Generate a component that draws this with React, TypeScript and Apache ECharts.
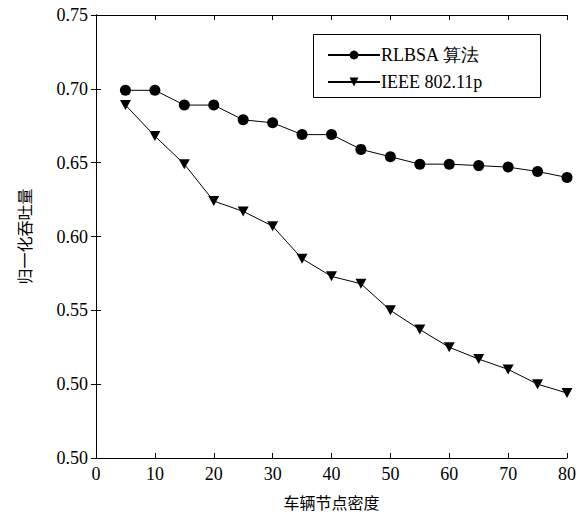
import React, { useEffect, useRef } from "react";
import * as echarts from "echarts";

const density = [5, 10, 15, 20, 25, 30, 35, 40, 45, 50, 55, 60, 65, 70, 75, 80];
const rlbsa = [0.699, 0.699, 0.689, 0.689, 0.679, 0.677, 0.669, 0.669, 0.659, 0.654, 0.649, 0.649, 0.648, 0.647, 0.644, 0.640];
const ieee = [0.689, 0.668, 0.649, 0.624, 0.617, 0.607, 0.585, 0.573, 0.568, 0.550, 0.537, 0.525, 0.517, 0.510, 0.500, 0.494];
const seriesNames = ["RLBSA 算法", "IEEE 802.11p"];
const xName = "车辆节点密度";
const yName = "归一化吞吐量";

const serif = "Liberation Serif";
const cjk = "Noto Sans CJK SC";

export default function App() {
  const ref = useRef<HTMLDivElement>(null);
  useEffect(() => {
    if (!ref.current) return;
    const chart = echarts.init(ref.current, null, { renderer: "svg" });
    const yFmt = (v: number) => (Math.abs(v - 0.45) < 1e-6 ? "0.50" : v.toFixed(2));
    chart.setOption({
      animation: false,
      backgroundColor: "#fff",
      textStyle: { fontFamily: serif },
      grid: { left: 96, right: 17, top: 15, bottom: 60, show: false },
      legend: {
        left: 322,
        top: 41,
        orient: "vertical",
        itemWidth: 52,
        itemHeight: 11,
        itemGap: 9,
        textStyle: { fontFamily: serif, fontSize: 18, color: "#000", padding: [0, 0, 0, -4] },
        data: seriesNames,
      },
      graphic: [
        {
          type: "rect",
          shape: { x: 313.5, y: 34.5, width: 227, height: 63 },
          style: { fill: "none", stroke: "#000", lineWidth: 1 },
          z: 10,
        },
      ],
      xAxis: [
        {
          type: "value",
          min: 0,
          max: 80,
          interval: 10,
          name: xName,
          nameLocation: "middle",
          nameGap: 36,
          nameTextStyle: { fontFamily: cjk, fontSize: 16, color: "#000" },
          axisLine: { lineStyle: { color: "#000", width: 1 } },
          axisTick: { inside: true, length: 5, lineStyle: { color: "#000" } },
          axisLabel: { color: "#000", fontSize: 18, fontFamily: serif, margin: 7 },
          splitLine: { show: false },
        },
        {
          type: "value",
          position: "top",
          min: 0,
          max: 80,
          interval: 10,
          axisLine: { lineStyle: { color: "#000", width: 1 } },
          axisTick: { inside: true, length: 5, lineStyle: { color: "#000" } },
          axisLabel: { show: false },
          splitLine: { show: false },
        },
      ],
      yAxis: [
        {
          type: "value",
          min: 0.45,
          max: 0.75,
          interval: 0.05,
          name: yName,
          nameLocation: "middle",
          nameGap: 64,
          nameTextStyle: { fontFamily: cjk, fontSize: 16, color: "#000" },
          axisLine: { show: true, lineStyle: { color: "#000", width: 1 } },
          axisTick: { show: true, inside: true, length: 5, lineStyle: { color: "#000" } },
          axisLabel: { color: "#000", fontSize: 18, fontFamily: serif, margin: 8, formatter: yFmt },
          splitLine: { show: false },
        },
        {
          type: "value",
          position: "right",
          min: 0.45,
          max: 0.75,
          interval: 0.05,
          axisLine: { show: true, lineStyle: { color: "#000", width: 1 } },
          axisTick: { show: true, inside: true, length: 5, lineStyle: { color: "#000" } },
          axisLabel: { show: false },
          splitLine: { show: false },
        },
      ],
      series: [
        {
          name: seriesNames[0],
          type: "line",
          data: density.map((d, i) => [d, rlbsa[i]]),
          symbol: "circle",
          symbolSize: 11,
          itemStyle: { color: "#000" },
          lineStyle: { color: "#000", width: 1 },
        },
        {
          name: seriesNames[1],
          type: "line",
          data: density.map((d, i) => [d, ieee[i]]),
          symbol: "triangle",
          symbolRotate: 180,
          symbolSize: [11, 10],
          itemStyle: { color: "#000" },
          lineStyle: { color: "#000", width: 1 },
        },
      ],
    });
    return () => chart.dispose();
  }, []);
  return <div ref={ref} style={{ width: 584, height: 518, position: "absolute", left: 0, top: 0 }} />;
}
